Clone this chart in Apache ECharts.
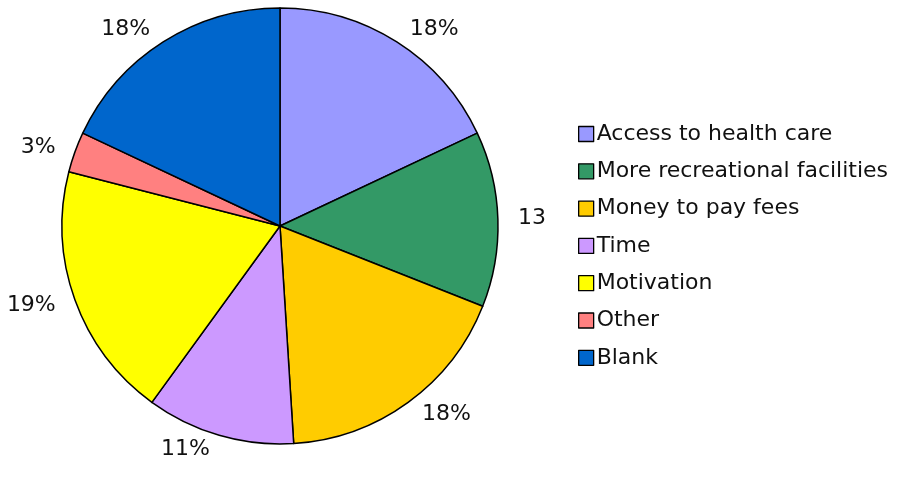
<!DOCTYPE html>
<html>
<head>
<meta charset="utf-8">
<script src="https://cdn.jsdelivr.net/npm/echarts@6/dist/echarts.min.js"></script>
<style>
  html, body { margin: 0; padding: 0; background: #fff; }
  #chart { width: 901px; height: 477px; }
</style>
</head>
<body>
<div id="chart"></div>
<script>
// Barriers to physical activity – share of responses (%)
const categories = [
  'Access to health care',
  'More recreational facilities',
  'Money to pay fees',
  'Time',
  'Motivation',
  'Other',
  'Blank'
];
const shares = [18, 13, 18, 11, 19, 3, 18];
const labelSuffix = ['%', '', '%', '%', '%', '%', '%'];
const sliceColors = ['#9999FF', '#339966', '#FFCC00', '#CC99FF', '#FFFF00', '#FF8080', '#0066CC'];

const chart = echarts.init(document.getElementById('chart'), null, { renderer: 'canvas' });

const fontFamily = 'DejaVu Sans, Verdana, sans-serif';

chart.setOption({
  animation: false,
  backgroundColor: '#ffffff',
  color: sliceColors,
  legend: {
    orient: 'vertical',
    left: 573,
    top: 118,
    icon: 'rect',
    itemWidth: 15,
    itemHeight: 15,
    itemGap: 15.3,
    itemStyle: { borderColor: '#000', borderWidth: 1.3 },
    textStyle: { fontFamily: fontFamily, fontSize: 22, color: '#111', lineHeight: 22, padding: [0, 0, 0, -2] },
    data: categories
  },
  series: [{
    type: 'pie',
    center: [280, 226],
    radius: [0, 218],
    startAngle: 90,
    clockwise: true,
    avoidLabelOverlap: false,
    itemStyle: { borderColor: '#000', borderWidth: 1.5 },
    label: {
      show: true,
      position: 'outside',
      fontFamily: fontFamily,
      fontSize: 22,
      color: '#111',
      formatter: p => p.value + labelSuffix[p.dataIndex]
    },
    labelLine: { show: false, length: 15, length2: 0 },
    emphasis: { disabled: true },
    data: categories.map((c, i) => ({ name: c, value: shares[i] }))
  }]
});
</script>
</body>
</html>
